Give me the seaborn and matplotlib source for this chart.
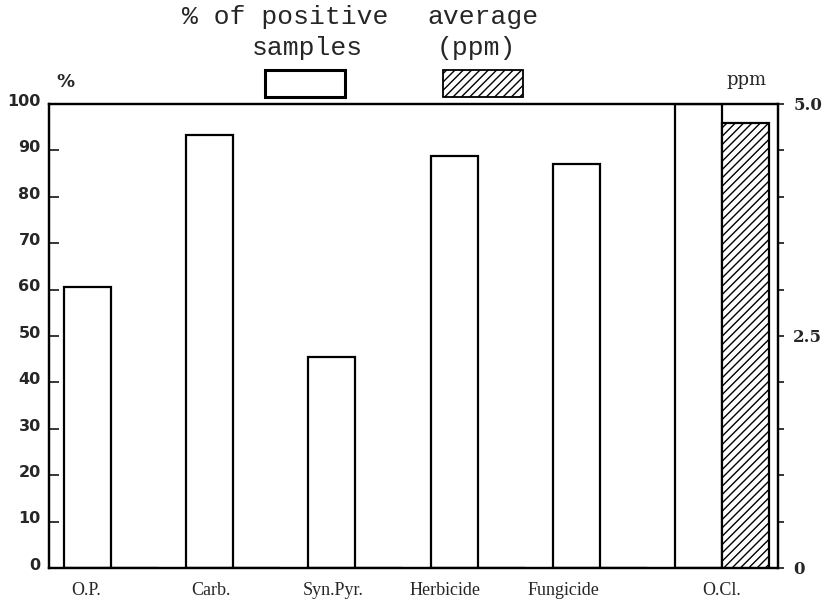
import matplotlib
matplotlib.use("Agg")
import matplotlib.pyplot as plt
from matplotlib.patches import Rectangle
from matplotlib.ticker import MultipleLocator
from matplotlib.transforms import ScaledTranslation
import numpy as np
import pandas as pd
import seaborn as sns


CATEGORIES = ["O.P.", "Carb.", "Syn.Pyr.", "Herbicide", "Fungicide", "O.Cl."]
PCT_POSITIVE = [60.5, 93.3, 45.5, 88.8, 87.0, 100.0]
AVG_PPM = [0.0, 0.0, 0.0, 0.0, 0.0, 4.8]
SERIES = ["% of positive samples", "average (ppm)"]

LEFT_TICKS = [0, 10, 20, 30, 40, 50, 60, 70, 80, 90, 100]
RIGHT_TICKS = [0, 2.5, 5.0]
RIGHT_TICK_LABELS = ["0", "2.5", "5.0"]

# where each category name sits relative to its group centre
LABEL_SHIFT = [-0.2, -0.18, -0.18, -0.27, -0.3, 0.0]


def build_frames():
    df = pd.DataFrame(
        {
            "category": CATEGORIES * 2,
            "series": [SERIES[0]] * len(CATEGORIES) + [SERIES[1]] * len(CATEGORIES),
            "value": PCT_POSITIVE + AVG_PPM,
        }
    )
    left = df.assign(value=df["value"].where(df["series"] == SERIES[0]))
    right = df.assign(value=df["value"].where(df["series"] == SERIES[1]))
    return left, right


def bars(data, ax):
    sns.barplot(
        data=data,
        x="category",
        y="value",
        hue="series",
        order=CATEGORIES,
        hue_order=SERIES,
        palette=["white", "white"],
        edgecolor="black",
        linewidth=1.6,
        width=0.77,
        errorbar=None,
        legend=False,
        ax=ax,
    )


def main():
    sns.set_style("ticks")
    plt.rcParams.update(
        {
            "axes.edgecolor": "black",
            "axes.linewidth": 1.6,
            "hatch.linewidth": 1.0,
            "hatch.color": "black",
        }
    )
    plt.rcParams["font.family"] = ["DejaVu Sans"]

    left, right = build_frames()

    fig = plt.figure(figsize=(8.23, 6.05), dpi=100)
    ax = fig.add_axes([0.0595, 0.0612, 0.8858, 0.7669])
    bars(left, ax)
    ax2 = ax.twinx()
    bars(right, ax2)
    for patch in ax2.patches:
        patch.set_hatch("////")

    ax.set_xlim(-0.507, 5.458)
    ax.set_ylim(0, 100)
    ax2.set_ylim(0, 5.0)
    for a in (ax, ax2):
        a.set_xlabel("")
        a.set_ylabel("")
        for side in ("top", "right", "left", "bottom"):
            a.spines[side].set_visible(True)
            a.spines[side].set_linewidth(1.6)

    ax.set_yticks(LEFT_TICKS)
    ax.set_yticklabels([str(t) for t in LEFT_TICKS], fontsize=11.5, fontweight="bold")
    ax.tick_params(axis="y", direction="in", length=7, width=1.3, pad=6)
    lift = ScaledTranslation(0, 3 / 72, fig.dpi_scale_trans)
    for label in ax.get_yticklabels():
        label.set_transform(label.get_transform() + lift)

    xpos = np.arange(len(CATEGORIES)) + np.array(LABEL_SHIFT)
    ax.set_xticks(xpos)
    ax.set_xticklabels(CATEGORIES, family="Liberation Serif", fontsize=13)
    ax.tick_params(axis="x", length=0, pad=10)

    ax2.set_yticks(RIGHT_TICKS)
    ax2.set_yticklabels(RIGHT_TICK_LABELS, family="DejaVu Serif", fontsize=12, fontweight="bold")
    ax2.yaxis.set_minor_locator(MultipleLocator(0.5))
    ax2.tick_params(axis="y", which="both", direction="out", length=4, width=1.3, pad=7)

    # legend drawn like the original: labels above sample boxes
    mono = "Liberation Mono"
    fig.text(182 / 823, 1 - 17 / 605, "% of positive", family=mono, fontsize=19, va="center", ha="left")
    fig.text(252 / 823, 1 - 48 / 605, "samples", family=mono, fontsize=19, va="center", ha="left")
    fig.text(427 / 823, 1 - 17 / 605, "average", family=mono, fontsize=19, va="center", ha="left")
    fig.text(437 / 823, 1 - 48 / 605, "(ppm)", family=mono, fontsize=19, va="center", ha="left")
    fig.patches.append(
        Rectangle((265 / 823, 1 - 97 / 605), 80 / 823, 27 / 605, transform=fig.transFigure,
                  facecolor="white", edgecolor="black", linewidth=2.2)
    )
    fig.patches.append(
        Rectangle((443 / 823, 1 - 97 / 605), 80 / 823, 27 / 605, transform=fig.transFigure,
                  facecolor="white", edgecolor="black", linewidth=1.3, hatch="////")
    )

    fig.text(65 / 823, 1 - 82 / 605, "%", fontsize=13, fontweight="bold", ha="center", va="center")
    fig.text(746 / 823, 1 - 80 / 605, "ppm", family="DejaVu Serif", fontsize=13, ha="center", va="center")

    fig.savefig("out.png", dpi=100)
    plt.close(fig)


if __name__ == "__main__":
    main()
